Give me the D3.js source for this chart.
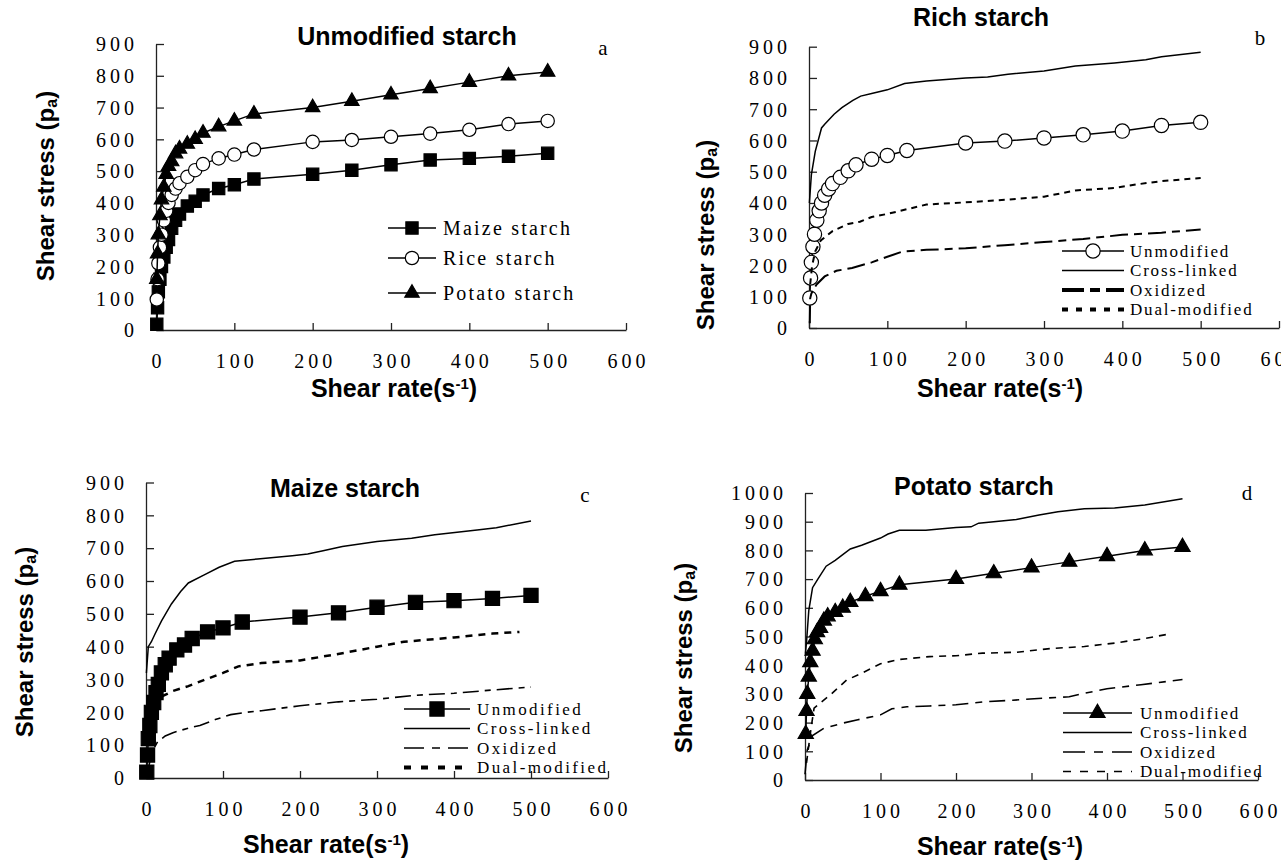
<!DOCTYPE html>
<html>
<head>
<meta charset="utf-8">
<script src="https://cdn.jsdelivr.net/npm/d3@7"></script>
<style>
body { margin: 0; background: #fff; }
</style>
</head>
<body>
<div id="chart"></div>
<script>
// shear rate ticks
var rateTicks = [0, 100, 200, 300, 400, 500, 600];

// native starches (panel a, reused as "Unmodified" in b, c, d)
var rates = [1, 2, 3, 5, 7, 10, 13, 16, 20, 25, 30, 40, 50, 60, 80, 100, 125, 200, 250, 300, 350, 400, 450, 500];
var maizeNative  = [18, 70, 120, 160, 200, 230, 260, 285, 320, 345, 365, 390, 405, 425, 445, 457, 475, 490, 503, 520, 535, 540, 547, 556];
var riceNative   = [96, 160, 210, 260, 300, 345, 375, 400, 425, 445, 462, 482, 503, 522, 540, 552, 568, 592, 598, 608, 618, 630, 648, 658];
var potatoNative = [160, 240, 300, 360, 410, 450, 490, 515, 530, 555, 570, 585, 600, 620, 640, 658, 680, 700, 720, 740, 760, 780, 800, 812];

// rice (panel b)
var riceCrossRate   = [0.5, 3, 8, 16, 20, 32, 42, 56, 66, 80, 100, 122, 150, 200, 228, 254, 300, 340, 390, 430, 450, 500];
var riceCrossStress = [400, 490, 565, 640, 652, 684, 705, 728, 742, 750, 762, 782, 790, 800, 803, 812, 822, 838, 848, 858, 868, 882];
var riceOxidRate    = [1, 1.5, 3, 6, 10, 20, 35, 55, 80, 100, 120, 150, 200, 250, 300, 350, 400, 450, 500];
var riceOxidStress  = [15, 95, 110, 125, 140, 165, 183, 192, 210, 228, 245, 250, 255, 265, 275, 285, 298, 305, 315];
var riceDualRate    = [1.5, 4, 8, 15, 30, 50, 65, 80, 100, 125, 150, 200, 250, 300, 340, 390, 420, 450, 500];
var riceDualStress  = [140, 200, 245, 280, 310, 333, 340, 355, 365, 380, 395, 402, 410, 420, 440, 448, 460, 470, 480];

// maize (panel c)
var maizeCrossRate   = [0.5, 3, 7, 12, 20, 33, 45, 55, 75, 95, 115, 145, 190, 210, 230, 255, 300, 345, 375, 430, 455, 500];
var maizeCrossStress = [320, 400, 415, 440, 478, 530, 568, 594, 618, 642, 660, 667, 677, 682, 692, 705, 720, 730, 741, 755, 762, 783];
var maizeOxidRate    = [3, 8, 15, 25, 35, 55, 70, 90, 110, 130, 150, 200, 250, 300, 350, 400, 450, 500];
var maizeOxidStress  = [30, 80, 110, 128, 138, 152, 160, 178, 193, 200, 205, 220, 232, 240, 252, 258, 268, 277];
var maizeDualRate    = [3, 8, 12, 22, 35, 55, 75, 100, 120, 150, 200, 230, 255, 300, 335, 400, 450, 485];
var maizeDualStress  = [60, 200, 230, 250, 265, 280, 298, 320, 340, 350, 358, 370, 380, 400, 415, 428, 440, 445];

// potato (panel d)
var potatoCrossRate   = [0.5, 2, 5, 10, 17, 28, 40, 50, 60, 75, 100, 110, 125, 160, 200, 220, 230, 280, 310, 335, 370, 410, 450, 500];
var potatoCrossStress = [440, 480, 590, 670, 700, 745, 765, 785, 805, 818, 843, 857, 870, 870, 880, 882, 895, 908, 923, 935, 945, 948, 958, 980];
var potatoOxidRate    = [0, 3, 10, 25, 50, 70, 100, 115, 135, 165, 200, 235, 275, 315, 350, 370, 400, 445, 500];
var potatoOxidStress  = [20, 105, 155, 180, 198, 210, 227, 248, 255, 258, 262, 272, 278, 285, 290, 302, 318, 332, 350];
var potatoDualRate    = [2, 5, 8, 12, 20, 35, 55, 75, 100, 125, 165, 200, 235, 280, 325, 370, 410, 450, 485];
var potatoDualStress  = [60, 120, 180, 250, 268, 300, 348, 372, 405, 420, 430, 433, 442, 445, 458, 465, 477, 493, 510];

var serif = "'Liberation Serif', 'Times New Roman', serif";
var sans = "'Liberation Sans', Arial, sans-serif";

var svg = d3.select('#chart').append('svg')
    .attr('width', 1281)
    .attr('height', 863)
    .style('background', '#fff');

function zip(xs, ys) {
    return xs.map(function(v, i) { return [v, ys[i]]; });
}

function drawPanel(p) {
    var x = d3.scaleLinear().domain([0, 600]).range([p.left, p.right]);
    var y = d3.scaleLinear().domain([0, p.ymax]).range([p.bottom, p.top]);
    var g = svg.append('g');

    var xa = g.append('g')
        .attr('transform', 'translate(0,' + p.bottom + ')')
        .call(d3.axisBottom(x).tickValues(rateTicks).tickSizeInner(-7).tickSizeOuter(0).tickPadding(24));
    xa.selectAll('text').attr('dx', 2);

    var ya = g.append('g')
        .attr('transform', 'translate(' + p.left + ',0)')
        .call(d3.axisLeft(y).tickValues(d3.range(0, p.ymax + 1, 100)).tickFormat(d3.format('d'))
            .tickSizeInner(-8).tickSizeOuter(0).tickPadding(18));
    ya.selectAll('text').attr('dy', '0.34em');

    g.selectAll('.domain, .tick line').attr('stroke', '#222').attr('stroke-width', 1.3);
    g.selectAll('.tick text')
        .attr('fill', '#000')
        .style('font-family', serif)
        .style('font-size', '20px')
        .attr('letter-spacing', 4);

    var line = d3.line()
        .x(function(d) { return x(d[0]); })
        .y(function(d) { return y(d[1]); });

    p.series.forEach(function(s) {
        var pts = zip(s.xs, s.ys);
        g.append('path')
            .datum(pts)
            .attr('d', line)
            .attr('fill', 'none')
            .attr('stroke', '#000')
            .attr('stroke-width', s.width)
            .attr('stroke-dasharray', s.dash || null);
        if (s.marker) {
            g.selectAll(null)
                .data(pts)
                .enter()
                .append('path')
                .attr('transform', function(d) { return 'translate(' + x(d[0]) + ',' + y(d[1]) + ')'; })
                .attr('d', d3.symbol().type(s.marker).size(s.msize))
                .attr('fill', s.fill)
                .attr('stroke', '#000')
                .attr('stroke-width', 1.2);
        }
    });

    // legend
    p.series.forEach(function(s, i) {
        var ly = p.legend.rows[i];
        g.append('line')
            .attr('x1', p.legend.x1)
            .attr('x2', p.legend.x2)
            .attr('y1', ly)
            .attr('y2', ly)
            .attr('stroke', '#000')
            .attr('stroke-width', s.lwidth || s.width)
            .attr('stroke-dasharray', s.ldash || s.dash || null);
        if (s.marker) {
            g.append('path')
                .attr('transform', 'translate(' + ((p.legend.x1 + p.legend.x2) / 2) + ',' + ly + ')')
                .attr('d', d3.symbol().type(s.marker).size(s.msize))
                .attr('fill', s.fill)
                .attr('stroke', '#000')
                .attr('stroke-width', 1.2);
        }
        g.append('text')
            .attr('x', p.legend.tx)
            .attr('y', ly + p.legend.size * 0.33)
            .style('font-family', serif)
            .style('font-size', p.legend.size + 'px')
            .attr('letter-spacing', p.legend.spacing)
            .text(s.name);
    });

    // panel title
    g.append('text')
        .attr('x', p.title[0])
        .attr('y', p.title[1])
        .attr('text-anchor', 'middle')
        .style('font-family', sans)
        .style('font-weight', 'bold')
        .style('font-size', '25px')
        .text(p.titleText);

    // panel letter
    g.append('text')
        .attr('x', p.letter[0])
        .attr('y', p.letter[1])
        .attr('text-anchor', 'middle')
        .style('font-family', serif)
        .style('font-size', '21px')
        .text(p.letterText);

    // y-axis title
    var yt = g.append('text')
        .attr('transform', 'translate(' + p.ytitle[0] + ',' + p.ytitle[1] + ') rotate(-90)')
        .attr('dy', '0.36em')
        .attr('text-anchor', 'middle')
        .style('font-family', sans)
        .style('font-weight', 'bold')
        .style('font-size', '24px');
    yt.append('tspan').text('Shear stress (p');
    yt.append('tspan').attr('baseline-shift', '-20%').style('font-size', '16px').text('a');
    yt.append('tspan').text(')');

    // x-axis title
    var xt = g.append('text')
        .attr('x', p.xtitle[0])
        .attr('y', p.xtitle[1])
        .attr('text-anchor', 'middle')
        .style('font-family', sans)
        .style('font-weight', 'bold')
        .style('font-size', '25px');
    xt.append('tspan').text('Shear rate(s');
    xt.append('tspan').attr('baseline-shift', '55%').style('font-size', '15px').text('-1');
    xt.append('tspan').text(')');
}

drawPanel({
    left: 156, right: 626, top: 44, bottom: 330, ymax: 900,
    titleText: 'Unmodified starch', title: [407, 45],
    letterText: 'a', letter: [603, 55],
    ytitle: [45, 186], xtitle: [394, 397],
    legend: { x1: 388, x2: 436, tx: 443, rows: [228, 258, 293], size: 20, spacing: 2.2 },
    series: [
        { name: 'Maize starch', xs: rates, ys: maizeNative, width: 1.5, marker: d3.symbolSquare, msize: 150, fill: '#000' },
        { name: 'Rice starch', xs: rates, ys: riceNative, width: 1.5, marker: d3.symbolCircle, msize: 140, fill: '#fff' },
        { name: 'Potato starch', xs: rates, ys: potatoNative, width: 1.5, marker: d3.symbolTriangle, msize: 90, fill: '#000' }
    ]
});

drawPanel({
    left: 809, right: 1279, top: 46.7, bottom: 328, ymax: 900,
    titleText: 'Rich starch', title: [981, 26],
    letterText: 'b', letter: [1260, 45],
    ytitle: [705, 235], xtitle: [1000, 397],
    legend: { x1: 1062, x2: 1124, tx: 1130, rows: [251, 270.5, 290, 309.5], size: 17, spacing: 1.8 },
    series: [
        { name: 'Unmodified', xs: rates, ys: riceNative, width: 1.5, marker: d3.symbolCircle, msize: 160, fill: '#fff' },
        { name: 'Cross-linked', xs: riceCrossRate, ys: riceCrossStress, width: 1.5 },
        { name: 'Oxidized', xs: riceOxidRate, ys: riceOxidStress, width: 2, dash: '18,6,8,6', lwidth: 4, ldash: '22,6,10,6' },
        { name: 'Dual-modified', xs: riceDualRate, ys: riceDualStress, width: 2, dash: '6,5', lwidth: 4, ldash: '6,8' }
    ]
});

drawPanel({
    left: 146, right: 608, top: 482.5, bottom: 778, ymax: 900,
    titleText: 'Maize starch', title: [345, 497],
    letterText: 'c', letter: [585, 502],
    ytitle: [24, 642], xtitle: [326, 853],
    legend: { x1: 404, x2: 470, tx: 477, rows: [709, 728.5, 748, 767.5], size: 17, spacing: 2.4 },
    series: [
        { name: 'Unmodified', xs: rates, ys: maizeNative, width: 1.5, marker: d3.symbolSquare, msize: 200, fill: '#000' },
        { name: 'Cross-linked', xs: maizeCrossRate, ys: maizeCrossStress, width: 1.5 },
        { name: 'Oxidized', xs: maizeOxidRate, ys: maizeOxidStress, width: 1.6, dash: '16,6,6,6', ldash: '20,8,8,8' },
        { name: 'Dual-modified', xs: maizeDualRate, ys: maizeDualStress, width: 2.5, dash: '7,6', lwidth: 4, ldash: '7,10' }
    ]
});

drawPanel({
    left: 805, right: 1258, top: 493, bottom: 780, ymax: 1000,
    titleText: 'Potato starch', title: [974, 495],
    letterText: 'd', letter: [1247, 500],
    ytitle: [683, 658], xtitle: [1000, 855],
    legend: { x1: 1063, x2: 1132, tx: 1140, rows: [713, 732.5, 752, 771.5], size: 17, spacing: 1.8 },
    series: [
        { name: 'Unmodified', xs: rates, ys: potatoNative, width: 1.5, marker: d3.symbolTriangle, msize: 100, fill: '#000' },
        { name: 'Cross-linked', xs: potatoCrossRate, ys: potatoCrossStress, width: 1.5 },
        { name: 'Oxidized', xs: potatoOxidRate, ys: potatoOxidStress, width: 1.6, dash: '16,7,7,7', ldash: '22,9,9,9' },
        { name: 'Dual-modified', xs: potatoDualRate, ys: potatoDualStress, width: 1.6, dash: '7,6', ldash: '8,9' }
    ]
});
</script>
</body>
</html>
